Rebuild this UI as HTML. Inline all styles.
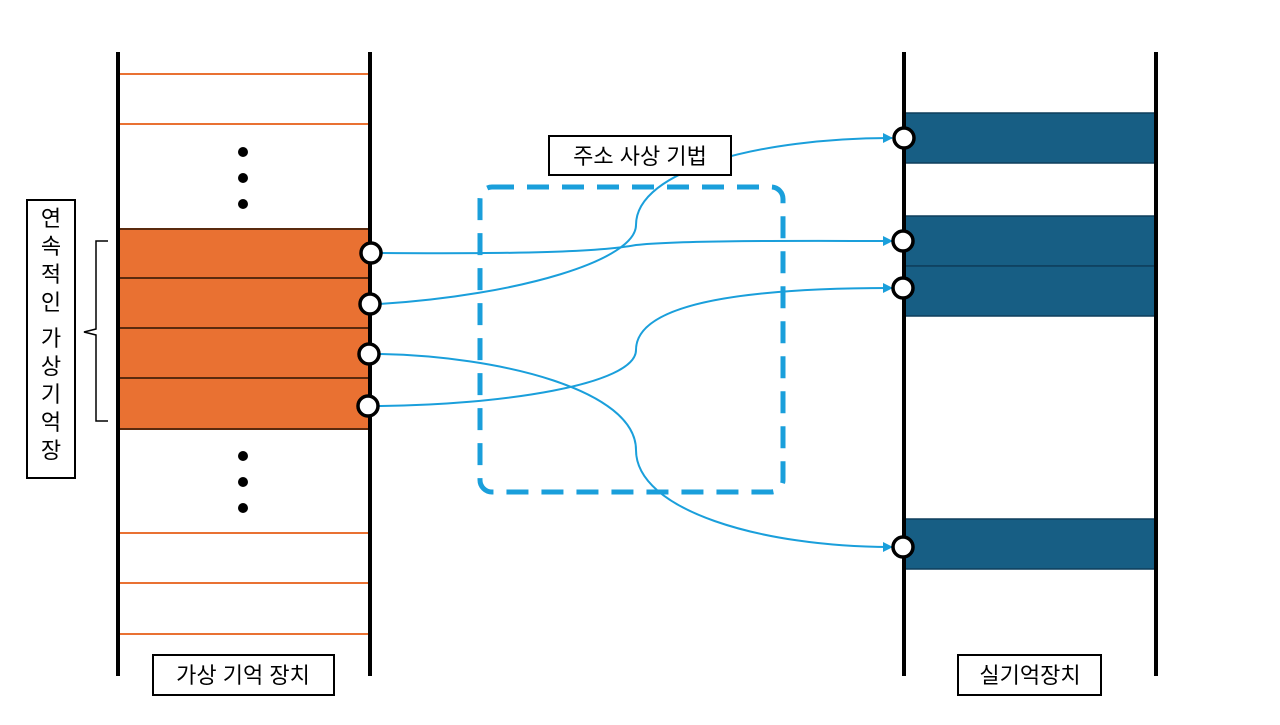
<!DOCTYPE html>
<html><head><meta charset="utf-8"><style>
body{margin:0;background:#fff;width:1280px;height:720px;overflow:hidden}
text{font-family:"Liberation Sans","Noto Sans CJK KR",sans-serif;font-size:22px;fill:#000}
</style></head><body>
<svg width="1280" height="720" viewBox="0 0 1280 720">
<defs><marker id="a" viewBox="0 0 10 10" refX="9" refY="5" markerWidth="5" markerHeight="5" orient="auto"><path d="M0,0L10,5L0,10z" fill="#1A9FDB"/></marker></defs>
<g stroke="#E97132" stroke-width="2">
<line x1="118" y1="74" x2="370" y2="74"/><line x1="118" y1="124" x2="370" y2="124"/>
<line x1="118" y1="533" x2="370" y2="533"/><line x1="118" y1="583" x2="370" y2="583"/><line x1="118" y1="634" x2="370" y2="634"/>
</g>
<rect x="118" y="229" width="252" height="200" fill="#E97132" stroke="#5A2A0E" stroke-width="2"/>
<g stroke="#5A2A0E" stroke-width="2"><line x1="118" y1="278" x2="370" y2="278"/><line x1="118" y1="328" x2="370" y2="328"/><line x1="118" y1="378" x2="370" y2="378"/></g>
<g fill="#000"><circle cx="243" cy="152" r="5"/><circle cx="243" cy="178" r="5"/><circle cx="243" cy="204" r="5"/>
<circle cx="243" cy="456" r="5"/><circle cx="243" cy="482" r="5"/><circle cx="243" cy="508" r="5"/></g>
<g fill="#175E84" stroke="#0E3F5C" stroke-width="1.5">
<rect x="904" y="113" width="252" height="50"/><rect x="904" y="216" width="252" height="50"/><rect x="904" y="266" width="252" height="50"/><rect x="904" y="519" width="252" height="50"/></g>
<g stroke="#000" stroke-width="4"><line x1="118" y1="52" x2="118" y2="676"/><line x1="370" y1="52" x2="370" y2="676"/><line x1="904" y1="52" x2="904" y2="676"/><line x1="1156" y1="52" x2="1156" y2="676"/></g>
<rect x="480" y="187" width="303" height="305" rx="12" fill="none" stroke="#1A9FDB" stroke-width="5" stroke-dasharray="22 13"/>
<g fill="none" stroke="#1A9FDB" stroke-width="2" marker-end="url(#a)">
<path d="M381,253 C520,254 600,252 636,245 C680,240 800,241 892,241"/>
<path d="M380,304 C520,295 636,260 636,225 C636,170 760,138 892,138"/>
<path d="M378,354 C500,356 636,390 636,450 C636,510 760,547 892,547"/>
<path d="M378,406 C500,405 636,385 636,350 C636,300 760,288 892,288"/>
</g>
<g fill="#fff" stroke="#000" stroke-width="3.5">
<circle cx="371" cy="253" r="10"/><circle cx="370" cy="304" r="10"/><circle cx="369" cy="354" r="10"/><circle cx="368" cy="406" r="10"/>
<circle cx="904" cy="138" r="10"/><circle cx="903" cy="241" r="10"/><circle cx="903" cy="288" r="10"/><circle cx="903" cy="547" r="10"/></g>
<path d="M108,241 H96 V329 L84,332 L96,335 V421 H108" fill="none" stroke="#000" stroke-width="1.5"/>
<g fill="#fff" stroke="#000" stroke-width="2">
<rect x="549" y="136" width="182" height="39"/><rect x="153" y="655" width="181" height="40"/><rect x="958" y="655" width="143" height="40"/><rect x="27" y="200" width="48" height="278"/></g>
<text x="640" y="164" text-anchor="middle">주소 사상 기법</text>
<text x="243" y="683" text-anchor="middle">가상 기억 장치</text>
<text x="1030" y="683" text-anchor="middle">실기억장치</text>
<g text-anchor="middle">
<text x="51" y="226">연</text><text x="51" y="254">속</text><text x="51" y="282">적</text><text x="51" y="310">인</text>
<text x="51" y="346">가</text><text x="51" y="374">상</text><text x="51" y="402">기</text><text x="51" y="430">억</text><text x="51" y="458">장</text><text x="51" y="466" opacity="0"> </text></g>
<text x="51" y="470" text-anchor="middle" opacity="0"></text>
</svg>
</body></html>
